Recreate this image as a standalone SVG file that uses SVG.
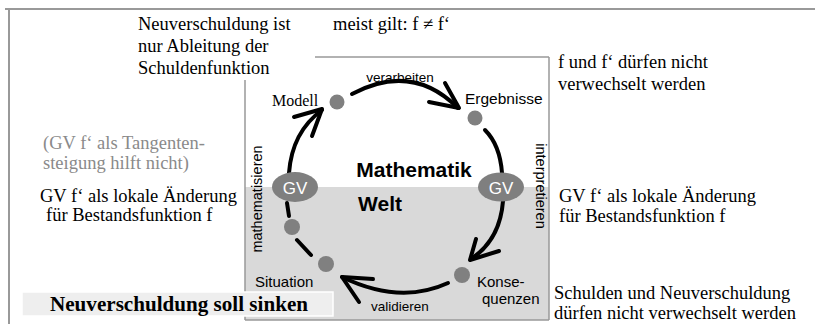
<svg xmlns="http://www.w3.org/2000/svg" width="815" height="324" viewBox="0 0 815 324">
<defs>
<style>
.serif{font-family:"Liberation Serif","Times New Roman",serif;fill:#000}
.sans{font-family:"Liberation Sans",Arial,sans-serif;fill:#000}
.note{font-size:18.5px}
.grey{fill:#8a8a8a}
.lbl{font-size:15px}
.arc{fill:none;stroke:#000;stroke-width:4;stroke-linecap:round;stroke-linejoin:round}
.dot{fill:#808080}
.gv{fill:#7f7f7f}
.gvt{font-family:"Liberation Sans",Arial,sans-serif;font-size:17px;fill:#fff;text-anchor:middle}
.frame{fill:none;stroke:#999;stroke-width:2}
</style>
</defs>
<rect width="815" height="324" fill="#fff"/>
<g id="frame">
<line class="frame" x1="5" y1="9" x2="815" y2="9"/>
<line class="frame" x1="9" y1="9" x2="9" y2="324"/>
</g>
<g id="world-box">
<rect x="245" y="187" width="304" height="133" fill="#d9d9d9"/>
<line x1="315" y1="57" x2="549" y2="57" stroke="#999" stroke-width="1.5"/>
<line x1="549" y1="57" x2="549" y2="320" stroke="#999" stroke-width="1.5"/>
<line x1="245" y1="80" x2="245" y2="320" stroke="#999" stroke-width="1.5"/>
<line x1="245" y1="320" x2="549" y2="320" stroke="#999" stroke-width="1.5"/>
<text class="sans" x="414" y="177" font-size="21" font-weight="bold" text-anchor="middle">Mathematik</text>
<text class="sans" x="380" y="211" font-size="21" font-weight="bold" text-anchor="middle">Welt</text>
<text class="sans" font-size="14.5" text-anchor="middle" transform="translate(262,199) rotate(-90)">mathematisieren</text>
<text class="sans" font-size="14.5" text-anchor="middle" transform="translate(536,186) rotate(90)">interpretieren</text>
</g>
<g id="connectors">
<path class="arc" d="M289 173 Q292 132 322 110"/>
<path class="arc" d="M294 117 L322 109 L312 136"/>
<path class="arc" d="M352 94 Q412 62 458 108"/>
<path class="arc" d="M445 83 L459 108 L429 102"/>
<path class="arc" d="M485 130 Q500 145 502 173"/>
<path class="arc" d="M503 201 Q500 240 471 259"/>
<path class="arc" d="M476 239 L470 260 L499 251"/>
<path class="arc" d="M448 283 Q400 305 342 277"/>
<path class="arc" d="M373 279 L342 277 L359 302"/>
<path class="arc" d="M287 203 L289 216"/>
<path class="arc" d="M297 240 L311 255"/>
<text class="sans" x="400" y="82" font-size="13.5" text-anchor="middle">verarbeiten</text>
<text class="sans" x="400" y="311" font-size="13.5" text-anchor="middle">validieren</text>
</g>
<g id="node-modell">
<circle class="dot" cx="337" cy="102" r="7.5"/>
<text class="serif" x="272" y="106" font-size="16">Modell</text>
</g>
<g id="node-ergebnisse">
<circle class="dot" cx="475" cy="118" r="7.5"/>
<text class="sans" x="465" y="104" font-size="15.5">Ergebnisse</text>
</g>
<g id="node-gv-left">
<ellipse class="gv" cx="295" cy="187" rx="23" ry="15"/>
<text class="gvt" x="295" y="194">GV</text>
</g>
<g id="node-gv-right">
<ellipse class="gv" cx="501" cy="187" rx="23" ry="14.5"/>
<text class="gvt" x="501" y="194">GV</text>
</g>
<g id="node-konsequenzen">
<circle class="dot" cx="462" cy="275" r="8"/>
<text class="sans lbl" x="477" y="287">Konse-</text>
<text class="sans lbl" x="482" y="304">quenzen</text>
</g>
<g id="node-dot-left">
<circle class="dot" cx="292" cy="227" r="8"/>
</g>
<g id="node-situation">
<circle class="dot" cx="326" cy="264" r="8"/>
<text class="sans lbl" x="255" y="287">Situation</text>
</g>
<g id="note-neuverschuldung-ableitung">
<text class="serif note"><tspan x="138" y="30">Neuverschuldung ist</tspan><tspan x="138" y="52">nur Ableitung der</tspan><tspan x="138" y="74">Schuldenfunktion</tspan></text>
</g>
<g id="note-meist">
<text class="serif note" x="333" y="30">meist gilt: f ≠ f‘</text>
</g>
<g id="note-f-fstrich">
<text class="serif note"><tspan x="558" y="68">f und f‘ dürfen nicht</tspan><tspan x="558" y="90">verwechselt werden</tspan></text>
</g>
<g id="note-tangente">
<text class="serif note grey"><tspan x="43" y="149">(GV f‘ als Tangenten-</tspan><tspan x="43" y="169">steigung hilft nicht)</tspan></text>
</g>
<g id="note-gv-left">
<text class="serif note"><tspan x="40" y="202">GV f‘ als lokale Änderung</tspan><tspan x="46" y="221">für Bestandsfunktion f</tspan></text>
</g>
<g id="note-gv-right">
<text class="serif note"><tspan x="559" y="202">GV f‘ als lokale Änderung</tspan><tspan x="559" y="222">für Bestandsfunktion f</tspan></text>
</g>
<g id="note-schulden">
<text class="serif note"><tspan x="554" y="299">Schulden und Neuverschuldung</tspan><tspan x="554" y="319">dürfen nicht verwechselt werden</tspan></text>
</g>
<g id="title-sinken">
<rect x="22" y="292" width="311" height="24" fill="#eeeeee" stroke="#fff" stroke-width="1.5"/>
<text class="serif" x="50" y="311" font-size="21.5" font-weight="bold" textLength="258" lengthAdjust="spacingAndGlyphs">Neuverschuldung soll sinken</text>
</g>
</svg>
